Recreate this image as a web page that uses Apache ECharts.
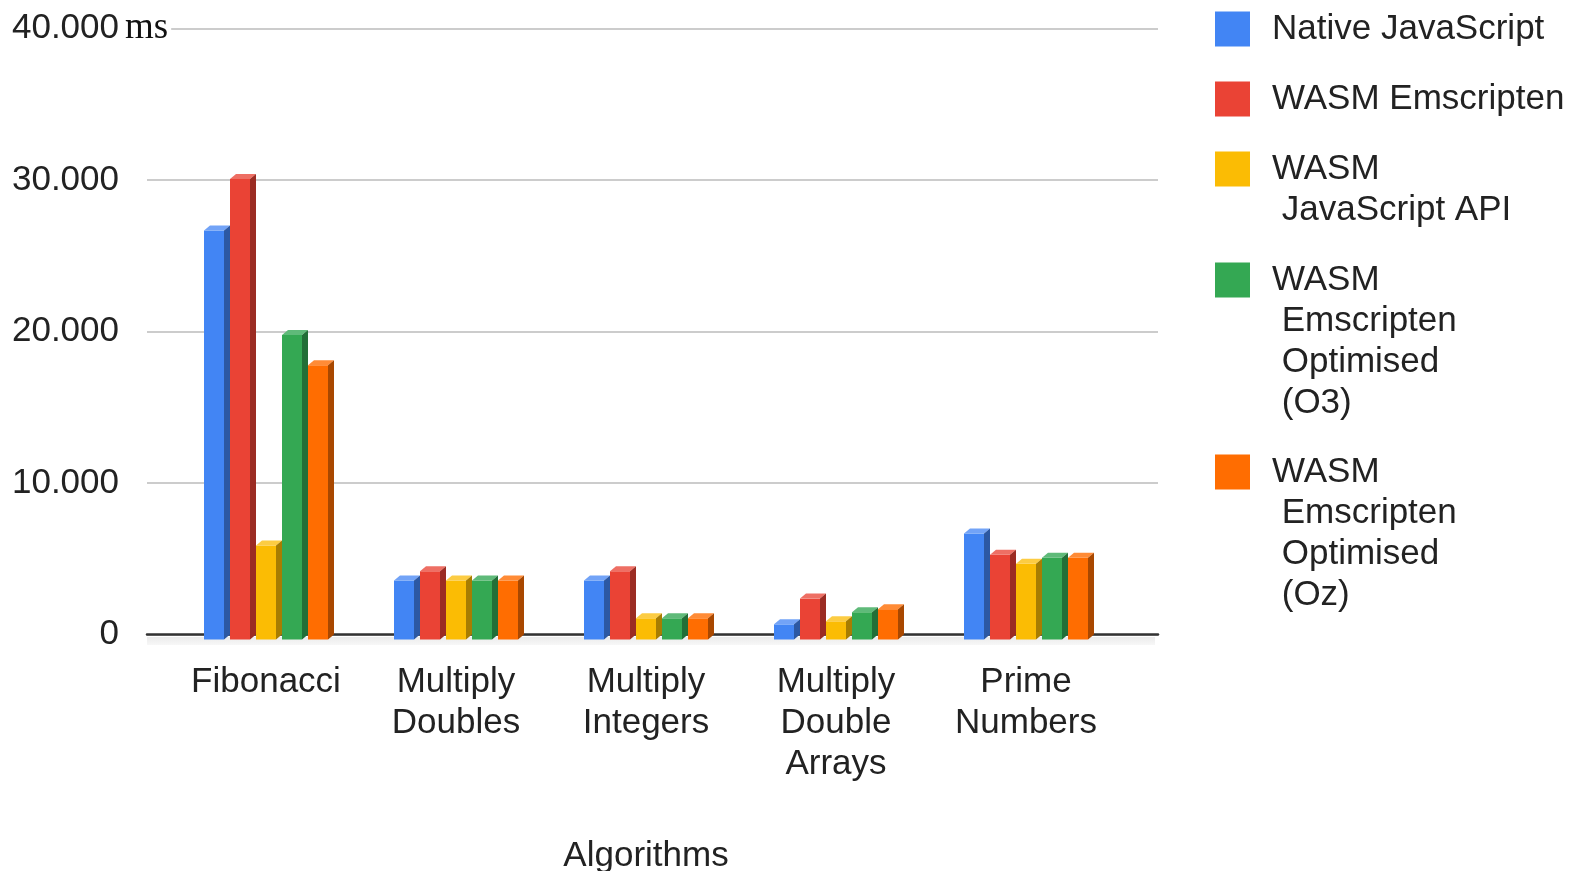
<!DOCTYPE html>
<html>
<head>
<meta charset="utf-8">
<script src="https://cdn.jsdelivr.net/npm/echarts@6/dist/echarts.min.js"></script>
<style>
  html, body { margin: 0; padding: 0; background: #ffffff; }
  #chart { width: 1569px; height: 871px; }
</style>
</head>
<body>
<div id="chart"></div>
<script>
// Benchmark runtimes (ms) per algorithm
const categories = ['Fibonacci', 'Multiply\nDoubles', 'Multiply\nIntegers', 'Multiply\nDouble\nArrays', 'Prime\nNumbers'];
const seriesNames = ['Native JavaScript', 'WASM Emscripten', 'WASM JavaScript API', 'WASM Emscripten Optimised (O3)', 'WASM Emscripten Optimised (Oz)'];
const legendLabels = ['Native JavaScript', 'WASM Emscripten', 'WASM\n JavaScript API', 'WASM\n Emscripten\n Optimised\n (O3)', 'WASM\n Emscripten\n Optimised\n (Oz)'];
const nativeJs       = [27000, 3900, 3900, 1000, 7000];
const wasmEmscripten = [30400, 4500, 4500, 2700, 5600];
const wasmJsApi      = [6200, 3900, 1400, 1200, 5000];
const wasmO3         = [20100, 3900, 1400, 1800, 5400];
const wasmOz         = [18100, 3900, 1400, 2000, 5400];
const yMin = 0, yMax = 40000, yStep = 10000;
const yUnit = 'ms';
const xTitle = 'Algorithms';

const values = [nativeJs, wasmEmscripten, wasmJsApi, wasmO3, wasmOz];
const palettes = [
  { front: '#4285f4', top: '#72a3f7', side: '#2c58a3' },
  { front: '#ea4335', top: '#ee6f64', side: '#9b2c23' },
  { front: '#fbbc04', top: '#fccc43', side: '#a77d02' },
  { front: '#34a853', top: '#5fba79', side: '#226f37' },
  { front: '#ff6d01', top: '#ff8b36', side: '#a94800' }
];

const FONT = '"Liberation Sans", Arial, sans-serif';
const TEXT = '#222222';
const W = 20, DX = 6, DY = 5, PITCH = 26, GROUP_OFFSET = 62;

function formatThousands(v) {
  return String(v).replace(/\B(?=(\d{3})+(?!\d))/g, '.');
}

// Bars with a front face, a lighter top and a darker right side
function makeRenderItem(si, pal) {
  return function (params, api) {
    const cat = api.value(0), v = api.value(1);
    const top = api.coord([cat, v]);
    const base = api.coord([cat, 0]);
    const x = top[0] - GROUP_OFFSET + si * PITCH;
    const yT = top[1], yB = base[1];
    return {
      type: 'group',
      children: [
        { type: 'rect', shape: { x: x, y: yT + DY, width: W, height: yB - yT }, style: { fill: pal.front } },
        { type: 'polygon', shape: { points: [[x, yT + DY], [x + DX, yT], [x + W + DX, yT], [x + W, yT + DY]] }, style: { fill: pal.top } },
        { type: 'polygon', shape: { points: [[x + W, yT + DY], [x + W + DX, yT], [x + W + DX, yB], [x + W, yB + DY]] }, style: { fill: pal.side } }
      ]
    };
  };
}

// Legend entries: the swatch sits beside the first text line
const legendCenters = [29, 99, 169, 280, 472];
const LINE = 41, SWATCH = 35;
const legends = seriesNames.map(function (name, i) {
  const lines = legendLabels[i].split('\n').length;
  const h = LINE * lines;
  const pad = (LINE - SWATCH) / 2;
  // square at the top of a taller (empty) icon box
  const icon = 'path://M0,0M0,' + pad + 'h' + SWATCH + 'v' + SWATCH + 'h-' + SWATCH + 'z' + 'M' + SWATCH + ',' + h;
  return {
    data: [{ name: name, icon: icon }],
    orient: 'vertical',
    left: 1215,
    top: legendCenters[i] - LINE / 2,
    padding: 0,
    itemWidth: SWATCH,
    itemHeight: h,
    selectedMode: false,
    formatter: function () { return legendLabels[i]; },
    textStyle: {
      fontFamily: FONT, fontSize: 35, color: TEXT, lineHeight: LINE,
      padding: [0, 0, 0, 17]
    }
  };
});

const series = seriesNames.map(function (name, si) {
  return {
    name: name,
    type: 'custom',
    xAxisIndex: 1,
    yAxisIndex: 1,
    itemStyle: { color: palettes[si].front },
    encode: { x: 0, y: 1 },
    data: values[si].map(function (v, ci) { return [ci, v]; }),
    renderItem: makeRenderItem(si, palettes[si]),
    z: 3
  };
});

const chart = echarts.init(document.getElementById('chart'), null, { renderer: 'canvas' });
chart.setOption({
  backgroundColor: '#ffffff',
  animation: false,
  legend: legends,
  grid: [
    { left: 147, right: 411, top: 28.5, bottom: 236.5, outerBoundsMode: 'none', containLabel: false },
    { left: 171, right: 448, top: 28.5, bottom: 236.5, outerBoundsMode: 'none', containLabel: false }
  ],
  xAxis: [
    {
      gridIndex: 0, type: 'value', min: 0, max: 1,
      axisLine: { show: true, lineStyle: { color: '#333333', width: 2.5 } },
      axisTick: { show: false }, axisLabel: { show: false }, splitLine: { show: false }
    },
    {
      gridIndex: 1, type: 'category', data: categories,
      axisLine: { show: false }, axisTick: { show: false },
      axisLabel: {
        interval: 0, hideOverlap: false, margin: 27,
        fontFamily: FONT, fontSize: 35, color: TEXT, lineHeight: LINE
      },
      name: xTitle, nameLocation: 'middle', nameGap: 201,
      nameTextStyle: { fontFamily: FONT, fontSize: 35, color: TEXT, lineHeight: LINE }
    }
  ],
  yAxis: [
    {
      gridIndex: 0, type: 'value', min: yMin, max: yMax, interval: yStep,
      axisLine: { show: false }, axisTick: { show: false },
      axisLabel: {
        margin: 28, fontFamily: FONT, fontSize: 35, color: TEXT,
        formatter: function (v) { return formatThousands(v); }
      },
      splitLine: { lineStyle: { color: '#cccccc', width: 2 } }
    },
    {
      gridIndex: 1, type: 'value', min: yMin, max: yMax, interval: yStep, show: false,
      splitLine: { show: false }
    }
  ],
  graphic: [
    {
      type: 'rect', z: 1, silent: true,
      shape: { x: 147, y: 637, width: 1008, height: 8 },
      style: {
        fill: new echarts.graphic.LinearGradient(0, 0, 0, 1, [
          { offset: 0, color: '#ebebeb' }, { offset: 1, color: '#f7f7f7' }
        ])
      }
    },
    {
      type: 'text', z: 5, silent: true, x: 125, y: 28,
      style: {
        text: yUnit, fontFamily: '"Liberation Serif", "Times New Roman", serif', fontSize: 37,
        fill: '#111111', verticalAlign: 'middle', align: 'left',
        backgroundColor: '#ffffff', padding: [0, 3, 0, 0]
      }
    }
  ],
  series: series
});
</script>
</body>
</html>
